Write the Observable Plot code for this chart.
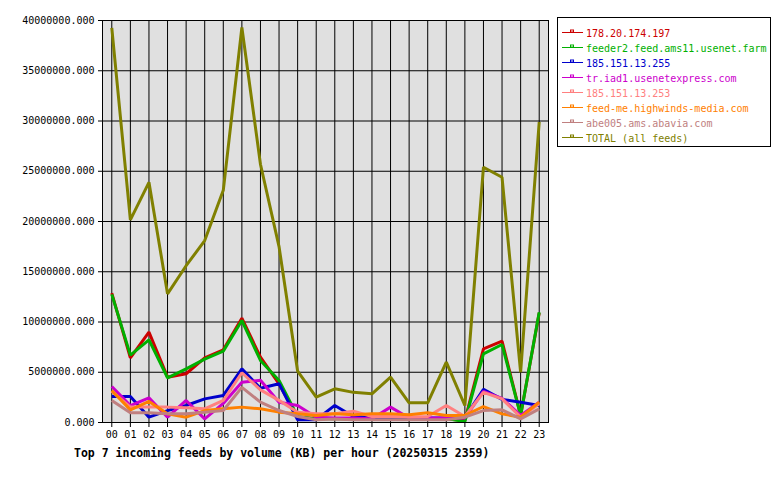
<!DOCTYPE html>
<html>
<head>
<meta charset="utf-8">
<script src="https://cdn.jsdelivr.net/npm/d3@7"></script>
<script src="https://cdn.jsdelivr.net/npm/@observablehq/plot@0.6"></script>
<style>
  html, body { margin: 0; padding: 0; background: #fff; }
  #wrap { position: relative; width: 780px; height: 480px; }
  #wrap svg { position: absolute; left: 0; top: 0; }
</style>
</head>
<body>
<div id="wrap"></div>
<script>
// ---- data (KB per hour) ----
const hourLabels = ["00","01","02","03","04","05","06","07","08","09","10","11","12","13","14","15","16","17","18","19","20","21","22","23"];
const seriesNames = ["178.20.174.197","feeder2.feed.ams11.usenet.farm","185.151.13.255","tr.iad1.usenetexpress.com","185.151.13.253","feed-me.highwinds-media.com","abe005.ams.abavia.com","TOTAL (all feeds)"];
const seriesColors = ["#cc0000","#00b000","#0000cc","#cc00cc","#ff8080","#ff8000","#c08080","#808000"];

const feedRed     = [12870000,6430000,8990000,4510000,4850000,6430000,7230000,10380000,6500000,3850000,500000,400000,400000,350000,300000,450000,300000,300000,350000,200000,7330000,8090000,700000,10900000];
const feedGreen   = [12750000,6700000,8230000,4450000,5340000,6300000,7100000,10150000,6170000,4180000,600000,350000,400000,350000,400000,430000,400000,300000,400000,100000,6830000,7760000,700000,10980000];
const feedBlue    = [2590000,2590000,530000,1190000,1690000,2350000,2690000,5340000,3400000,3850000,270000,270000,1700000,600000,500000,500000,350000,450000,450000,500000,3300000,2300000,2020000,1690000];
const feedMagenta = [3580000,1690000,2450000,530000,2190000,360000,1900000,4000000,4200000,2020000,1690000,530000,460000,450000,370000,1530000,450000,450000,450000,450000,3100000,2400000,700000,2020000];
const feedSalmon  = [3100000,1530000,1530000,1530000,1460000,1360000,2190000,4950000,3250000,2200000,1030000,860000,860000,1130000,600000,600000,550000,600000,1690000,600000,3000000,2350000,530000,1860000];
const feedOrange  = [3180000,1260000,2100000,860000,530000,1190000,1360000,1530000,1360000,1030000,860000,700000,860000,760000,860000,860000,760000,960000,700000,700000,1590000,860000,530000,2020000];
const feedRosy    = [2190000,960000,960000,860000,860000,1030000,1190000,3500000,2020000,1190000,600000,270000,360000,270000,270000,270000,270000,270000,270000,530000,1190000,1260000,360000,1360000];
const feedTotal   = [39270000,20170000,23900000,12800000,15600000,18100000,23100000,39300000,25700000,17500000,5100000,2520000,3350000,3000000,2850000,4510000,1960000,1960000,6000000,1690000,25400000,24400000,5000000,29900000];

const yTicks = [0,5000000,10000000,15000000,20000000,25000000,30000000,35000000,40000000];
const titleText = "Top 7 incoming feeds by volume (KB) per hour (20250315 2359)";

// ---- build long table ----
const allSeries = [feedRed, feedGreen, feedBlue, feedMagenta, feedSalmon, feedOrange, feedRosy, feedTotal];
const rows = [];
allSeries.forEach((vals, si) => {
  vals.forEach((v, h) => rows.push({hour: h, value: v, series: seriesNames[si]}));
});
const hours = hourLabels.map((_, i) => i);
const font = "DejaVu Sans Mono, monospace";

const chart = Plot.plot({
  width: 780,
  height: 480,
  marginLeft: 102,
  marginRight: 232,
  marginTop: 20,
  marginBottom: 58,
  style: {fontFamily: font, fontSize: "10px", background: "transparent", color: "#000"},
  x: {domain: [-0.5, 23.5], label: null},
  y: {domain: [0, 40000000], label: null},
  color: {domain: seriesNames, range: seriesColors},
  marks: [
    Plot.frame({fill: "#e0e0e0", stroke: null}),
    Plot.gridX({ticks: hours, stroke: "#000", strokeOpacity: 1, strokeWidth: 1}),
    Plot.gridY({ticks: yTicks, stroke: "#000", strokeOpacity: 1, strokeWidth: 1}),
    ...seriesNames.map(name => Plot.line(rows.filter(r => r.series === name), {
      x: "hour", y: "value", stroke: "series", strokeWidth: 3, strokeLinejoin: "miter", strokeLinecap: "butt"
    })),
    Plot.frame({stroke: "#000", strokeWidth: 1}),
    Plot.axisX({ticks: hours, tickFormat: d => hourLabels[d], tickSize: 5, tickPadding: 3, fontSize: 10, label: null}),
    Plot.axisY({ticks: yTicks, tickFormat: d => d.toFixed(3), tickSize: 4, tickPadding: 4, fontSize: 10, label: null})
  ]
});
document.getElementById("wrap").appendChild(chart);

// thicker left/bottom border
const svgSel = d3.select(chart);

// ---- overlay: legend + title ----
const ov = d3.select("#wrap").append("svg")
  .attr("width", 780).attr("height", 480)
  .style("font-family", font);

ov.append("rect").attr("x", 557.5).attr("y", 17.5).attr("width", 213).attr("height", 129)
  .attr("fill", "#fff").attr("stroke", "#000").attr("stroke-width", 1);

seriesNames.forEach((name, i) => {
  const y = 32.5 + 15 * i;
  const g = ov.append("g");
  g.append("line").attr("x1", 562).attr("x2", 583).attr("y1", y).attr("y2", y)
    .attr("stroke", seriesColors[i]).attr("stroke-width", 1);
  g.append("rect").attr("x", 570.5).attr("y", y - 2.5).attr("width", 3).attr("height", 2)
    .attr("fill", "none").attr("stroke", seriesColors[i]).attr("stroke-width", 1);
  g.append("text").attr("x", 586).attr("y", y + 4).attr("fill", seriesColors[i])
    .attr("font-size", 10).text(name);
});

ov.append("text").attr("x", 74).attr("y", 456.5)
  .attr("font-size", 11.5).attr("font-weight", "bold").attr("fill", "#000")
  .text(titleText);
</script>
</body>
</html>
